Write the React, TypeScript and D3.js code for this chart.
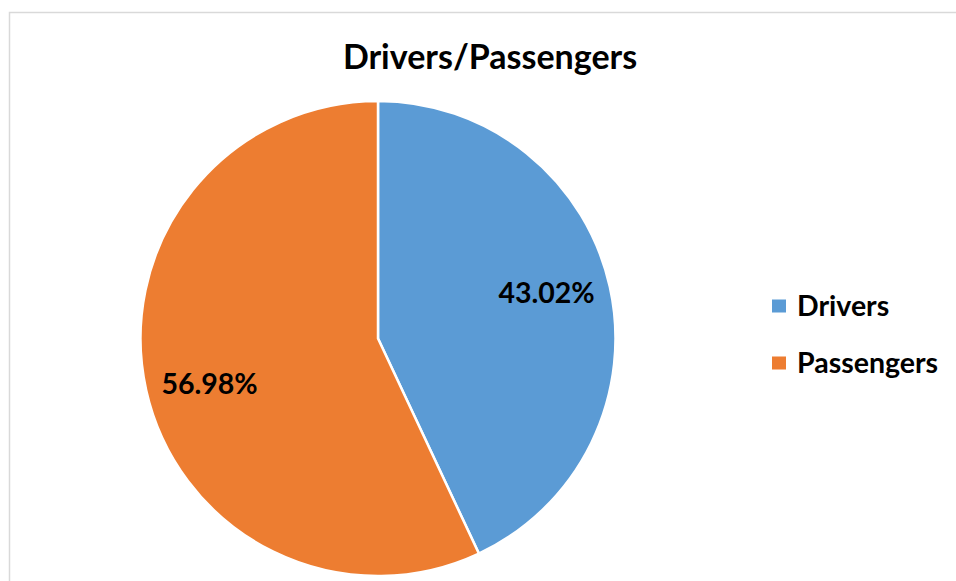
import React from "react";
import * as d3 from "d3";

const categories = ["Drivers", "Passengers"];
const values = [43.02, 56.98];
const colors = ["#5B9BD5", "#ED7D31"];
const title = "Drivers/Passengers";

const W = 956;
const H = 581;
const FONT = "Lato, 'Open Sans', sans-serif";

export default function App() {
  const cx = 378;
  const cy = 338.5;
  const R = 237.5;
  const pie = d3.pie<number>().sort(null).value((d) => d);
  const arcs = pie(values);
  const arc = d3.arc<d3.PieArcDatum<number>>().innerRadius(0).outerRadius(R);
  const labelArc = d3
    .arc<d3.PieArcDatum<number>>()
    .innerRadius(R * 0.735)
    .outerRadius(R * 0.735);
  const legendY = d3.scaleBand<string>().domain(categories).range([278, 392]);

  return (
    <svg
      width={W}
      height={H}
      style={{ position: "absolute", left: 0, top: 0, background: "#fff" }}
    >
      <rect x={9.5} y={12.5} width={W + 20} height={H + 20} fill="#fff" stroke="#D9D9D9" strokeWidth={1.5} />
      <text
        x={490}
        y={69}
        textAnchor="middle"
        fontFamily={FONT}
        fontWeight={700}
        fontSize={34}
        fill="#000"
      >
        {title}
      </text>
      <g transform={`translate(${cx},${cy})`}>
        {arcs.map((a, i) => (
          <path key={i} d={arc(a) || ""} fill={colors[i]} stroke="#fff" strokeWidth={2.5} />
        ))}
        {arcs.map((a, i) => {
          const shifted = { ...a, startAngle: a.startAngle - 0.045, endAngle: a.endAngle - 0.045 };
          const [x, y] = labelArc.centroid(shifted);
          return (
            <text
              key={"l" + i}
              x={x}
              y={y}
              textAnchor="middle"
              dy="0.36em"
              fontFamily={FONT}
              fontWeight={700}
              fontSize={28.5}
              fill="#000"
            >
              {values[i].toFixed(2) + "%"}
            </text>
          );
        })}
      </g>
      {categories.map((c, i) => {
        const y = (legendY(c) || 0) + legendY.bandwidth() / 2;
        return (
          <g key={c}>
            <rect x={772} y={y - 7} width={14} height={13} fill={colors[i]} />
            <text
              x={797}
              y={y + 9.5}
              fontFamily={FONT}
              fontWeight={700}
              fontSize={28.5}
              fill="#000"
            >
              {c}
            </text>
          </g>
        );
      })}
    </svg>
  );
}
